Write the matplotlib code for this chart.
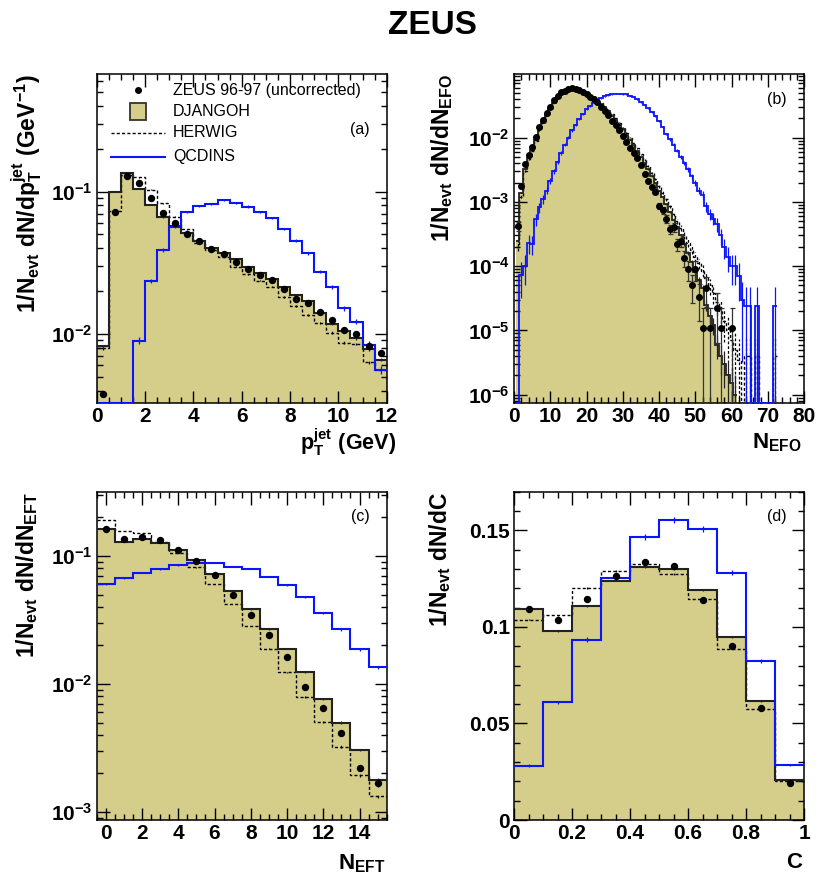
import numpy as np
import matplotlib
matplotlib.use("Agg")
import matplotlib.pyplot as plt
from matplotlib.ticker import LogLocator, MultipleLocator, FuncFormatter, NullFormatter
from matplotlib.patches import Rectangle

plt.rcParams['font.family'] = ['Liberation Sans', 'DejaVu Sans']
plt.rcParams['font.weight'] = 'bold'
plt.rcParams['mathtext.fontset'] = 'custom'
plt.rcParams['mathtext.rm'] = 'Liberation Sans:bold'
plt.rcParams['mathtext.it'] = 'Liberation Sans:bold'
plt.rcParams['mathtext.bf'] = 'Liberation Sans:bold'
plt.rcParams['mathtext.default'] = 'rm'

KHAKI = '#d4ce8a'
BLUE = '#0a14ff'

# ---------------- (a) jet transverse momentum ---------------- #
pt_edges = np.arange(0, 12.01, 0.5)
pt_data = [0.00377, 0.0723, 0.129, 0.115, 0.0908, 0.0705, 0.060, 0.0507, 0.0446, 0.0398,
           0.0367, 0.0319, 0.0288, 0.026, 0.0239, 0.0207, 0.0177, 0.0164, 0.0143, 0.0126,
           0.0106, 0.0100, 0.0082, 0.0074]
pt_djangoh = [0.0082, 0.100, 0.134, 0.105, 0.0806, 0.066, 0.0577, 0.051, 0.0446, 0.0404,
              0.0369, 0.0337, 0.0294, 0.0267, 0.0243, 0.0213, 0.0188, 0.0169, 0.0140, 0.0117,
              0.0105, 0.0093, 0.0078, 0.0066]
pt_herwig = [0.0079, 0.0735, 0.131, 0.126, 0.103, 0.0828, 0.0667, 0.0543, 0.0434, 0.0389,
             0.0349, 0.0297, 0.0262, 0.0237, 0.0215, 0.0181, 0.0156, 0.0136, 0.0120, 0.0102,
             0.0087, 0.0085, 0.0063, 0.0056]
pt_qcdins = [0, 0, 0, 0.00898, 0.0237, 0.0389, 0.0568, 0.0716, 0.0797, 0.0819,
             0.0873, 0.0828, 0.0785, 0.0716, 0.065, 0.0547, 0.0453, 0.0369, 0.0274, 0.0215,
             0.0151, 0.0122, 0.0084, 0.0056]

# ---------------- (b) number of energy flow objects ---------------- #
# bins of width 1, centred on N = 1, 2, 3, ...
efo_data = [4.2e-4, 1.8e-3, 3.9e-3, 5.4e-3, 7.1e-3, 1.02e-2, 1.49e-2, 1.9e-2, 2.45e-2, 3.0e-2,
            3.8e-2, 4.5e-2, 5.1e-2, 5.4e-2, 5.7e-2, 5.9e-2, 5.75e-2, 5.5e-2, 5.2e-2, 4.8e-2,
            4.35e-2, 3.95e-2, 3.55e-2, 3.0e-2, 2.6e-2, 2.25e-2, 1.85e-2, 1.6e-2, 1.3e-2, 1.06e-2,
            8.5e-3, 7.0e-3, 5.8e-3, 4.9e-3, 3.7e-3, 2.7e-3, 2.1e-3, 1.7e-3, 1.45e-3, 8.6e-4,
            7.4e-4, 5.5e-4, 3.8e-4, 4.1e-4, 2.2e-4, 2.5e-4, 1.35e-4, 9.0e-5, 5.0e-5, 9.0e-5,
            3.3e-5, 1.1e-5, 4.5e-5, 1.1e-5, 0, 2.2e-5, 1.1e-5, 0, 0, 1.1e-5]
efo_djangoh = [2.5e-4, 1.4e-3, 3.3e-3, 4.8e-3, 6.5e-3, 9.2e-3, 1.35e-2, 1.75e-2, 2.25e-2, 2.8e-2,
               3.5e-2, 4.2e-2, 4.8e-2, 5.2e-2, 5.5e-2, 5.6e-2, 5.6e-2, 5.45e-2, 5.2e-2, 4.9e-2,
               4.5e-2, 4.15e-2, 3.75e-2, 3.35e-2, 2.95e-2, 2.6e-2, 2.2e-2, 1.9e-2, 1.6e-2, 1.35e-2,
               1.12e-2, 9.3e-3, 7.6e-3, 6.2e-3, 5.0e-3, 4.0e-3, 3.2e-3, 2.5e-3, 1.95e-3, 1.5e-3,
               1.2e-3, 9.2e-4, 7.0e-4, 5.3e-4, 4.0e-4, 3.0e-4, 2.2e-4, 1.6e-4, 1.15e-4, 8.0e-5,
               6.0e-5, 4.5e-5, 2.5e-5, 1.7e-5, 1.2e-5, 6e-6, 4e-6, 3e-6, 2e-6, 1.5e-6, 1.0e-6]
efo_herwig = [2.0e-4, 1.2e-3, 3.0e-3, 4.6e-3, 6.3e-3, 9.0e-3, 1.3e-2, 1.7e-2, 2.2e-2, 2.75e-2,
              3.45e-2, 4.15e-2, 4.75e-2, 5.2e-2, 5.5e-2, 5.65e-2, 5.6e-2, 5.5e-2, 5.25e-2, 4.95e-2,
              4.6e-2, 4.25e-2, 3.85e-2, 3.45e-2, 3.05e-2, 2.7e-2, 2.3e-2, 2.0e-2, 1.7e-2, 1.43e-2,
              1.2e-2, 1.0e-2, 8.2e-3, 6.8e-3, 5.5e-3, 4.5e-3, 3.6e-3, 2.85e-3, 2.25e-3, 1.75e-3,
              1.4e-3, 1.1e-3, 8.5e-4, 6.5e-4, 5.0e-4, 3.9e-4, 3.0e-4, 2.3e-4, 1.8e-4, 1.4e-4,
              1.1e-4, 8.5e-5, 6.5e-5, 5.0e-5, 3.8e-5, 2.8e-5, 2.0e-5, 1.4e-5, 1.0e-5, 7e-6,
              5e-6, 3.5e-6, 0, 4e-6, 4e-6, 0, 4e-6, 0, 0, 0,
              0, 4e-6]
efo_qcdins = [0, 7.4e-5, 1.0e-4, 2.3e-4, 2.2e-4, 5.4e-4, 8.2e-4, 1.1e-3, 1.5e-3, 2.1e-3,
              3.0e-3, 4.2e-3, 5.8e-3, 7.8e-3, 1.0e-2, 1.3e-2, 1.6e-2, 1.95e-2, 2.35e-2, 2.75e-2,
              3.1e-2, 3.5e-2, 3.8e-2, 4.1e-2, 4.4e-2, 4.6e-2, 4.75e-2, 4.85e-2, 4.85e-2, 4.8e-2,
              4.7e-2, 4.5e-2, 4.25e-2, 3.95e-2, 3.6e-2, 3.2e-2, 2.85e-2, 2.5e-2, 2.15e-2, 1.8e-2,
              1.45e-2, 1.15e-2, 9.5e-3, 7.8e-3, 6.3e-3, 5.0e-3, 4.0e-3, 3.2e-3, 2.5e-3, 2.0e-3,
              1.5e-3, 1.3e-3, 8.5e-4, 6.5e-4, 5.5e-4, 4.5e-4, 3.0e-4, 2.0e-4, 1.4e-4, 1.0e-4,
              1.0e-4, 7.0e-5, 3.0e-5, 2.4e-5, 2.4e-5, 0, 2.4e-5, 0, 0, 0,
              0, 2.4e-5]

# ---------------- (c) number of energy flow objects in the transverse region ---------------- #
eft_edges = np.arange(-0.5, 15.51, 1.0)
eft_data = [0.164, 0.136, 0.140, 0.133, 0.111, 0.092, 0.0711, 0.050, 0.0346, 0.0242,
            0.0164, 0.0094, 0.00646, 0.00412, 0.00222, 0.00167]
eft_djangoh = [0.1615, 0.129, 0.135, 0.126, 0.1115, 0.093, 0.0723, 0.0536, 0.0383, 0.0267,
               0.0189, 0.0123, 0.0076, 0.0050, 0.00305, 0.00178]
eft_herwig = [0.191, 0.157, 0.152, 0.129, 0.106, 0.0815, 0.0604, 0.0422, 0.0284, 0.0189,
              0.0123, 0.00796, 0.00502, 0.00324, 0.00195, 0.00133]
eft_qcdins = [0.0601, 0.067, 0.0742, 0.0787, 0.085, 0.0887, 0.0887, 0.0826, 0.0796, 0.069,
              0.059, 0.0481, 0.036, 0.0267, 0.0187, 0.0135]

# ---------------- (d) C parameter ---------------- #
c_edges = np.arange(0, 1.001, 0.1)
c_data = [0.1093, 0.1035, 0.1145, 0.1263, 0.1336, 0.1315, 0.1137, 0.090, 0.0578, 0.019]
c_djangoh = [0.1093, 0.0977, 0.1107, 0.124, 0.1311, 0.1301, 0.1189, 0.0946, 0.0616, 0.0208]
c_herwig = [0.1038, 0.1059, 0.1202, 0.1289, 0.1327, 0.1272, 0.1142, 0.0888, 0.0576, 0.0202]
c_qcdins = [0.0282, 0.0609, 0.0934, 0.1254, 0.1464, 0.1554, 0.1505, 0.128, 0.0822, 0.0285]


# some helpers ----------------------------------------------------- #

def hist_fill(ax, edges, vals, floor):
    v = np.maximum(np.asarray(vals, float), floor)
    ax.stairs(v, edges, baseline=floor * 0.01, fill=True, color=KHAKI, lw=0, zorder=1)


def hist_line(ax, edges, vals, floor, w, color, ls='-', lw=1.3, z=3):
    vals = np.asarray(vals, float)
    v = np.maximum(vals, floor)
    ax.stairs(v, edges, baseline=None, color=color, ls=ls, lw=lw, zorder=z)
    # statistical error of the MC sample
    c = 0.5 * (edges[:-1] + edges[1:])
    m = vals > 0
    e = np.sqrt(vals[m] * w)
    lo = np.minimum(e, vals[m] - floor * 0.01)
    eb = ax.errorbar(c[m], vals[m], yerr=[lo, e], fmt='none', ecolor=color,
                     elinewidth=0.9, zorder=z)
    if ls != '-':
        eb[2][0].set_linestyle(ls)


def data_pts(ax, edges, vals, w, floor, ms=4.3, cap=0, ecol='k'):
    vals = np.asarray(vals, float)
    c = 0.5 * (edges[:-1] + edges[1:])
    m = vals > 0
    e = np.sqrt(vals[m] * w)
    lo = np.minimum(e, vals[m] - floor * 0.01)
    ax.errorbar(c[m], vals[m], yerr=[lo, e], fmt='o', ms=ms, color='k', ecolor=ecol,
                elinewidth=0.9, capsize=cap, capthick=0.9, zorder=5)


def log_fmt(v, pos):
    return r'$10^{%d}$' % int(round(np.log10(v)))


def style(ax, logy):
    ax.tick_params(which='both', direction='in', top=True, right=True, width=1)
    ax.tick_params(which='major', length=9, labelsize=15, pad=3)
    ax.tick_params(which='minor', length=4.5)
    for s in ax.spines.values():
        s.set_linewidth(1.1)
    if logy:
        ax.set_yscale('log')
        ax.yaxis.set_major_locator(LogLocator(base=10, numticks=20))
        ax.yaxis.set_minor_locator(LogLocator(base=10, subs=np.arange(2, 10), numticks=20))
        ax.yaxis.set_major_formatter(FuncFormatter(log_fmt))
        ax.yaxis.set_minor_formatter(NullFormatter())


gfmt = FuncFormatter(lambda v, p: '%g' % round(v, 3))

W, H = 830, 882
fig = plt.figure(figsize=(W / 100, H / 100), dpi=100)


def axes_px(left, top, right, bottom):
    return fig.add_axes([left / W, 1 - bottom / H, (right - left) / W, (bottom - top) / H])


fig.text(432 / W, 1 - 26 / H, 'ZEUS', ha='center', va='center', fontsize=24, fontweight='bold')

# ---- (a)
ax = axes_px(96.7, 74, 386.7, 403)
style(ax, True)
ymin_a = 0.00327
hist_fill(ax, pt_edges, pt_djangoh, ymin_a)
hist_line(ax, pt_edges, pt_herwig, ymin_a, 4e-6, 'k', ls=(0, (2.2, 1.6)), lw=1.0)
hist_line(ax, pt_edges, pt_djangoh, ymin_a, 4e-6, '#222222', lw=1.5)
hist_line(ax, pt_edges, pt_qcdins, ymin_a, 2.5e-5, BLUE, lw=1.5, z=4)
data_pts(ax, pt_edges, pt_data, 5e-6, ymin_a)
ax.set_xlim(0, 12)
ax.set_ylim(ymin_a, 0.67)
ax.xaxis.set_major_locator(MultipleLocator(2))
ax.xaxis.set_minor_locator(MultipleLocator(0.5))
ax.text(0.908, 0.83, '(a)', transform=ax.transAxes, ha='center', va='center',
        fontsize=11.5, fontweight='normal')
# legend
ta = ax.transAxes
ax.plot([0.1424], [0.951], 'o', color='k', ms=4, transform=ta, clip_on=False)
ax.add_patch(Rectangle((0.1148, 0.860), 0.0553, 0.051, transform=ta, facecolor=KHAKI,
                       edgecolor='#333333', lw=1.3, zorder=6))
ax.plot([0.049, 0.2355], [0.8207, 0.8207], color='k', ls=(0, (2.2, 1.6)), lw=1.0, transform=ta)
ax.plot([0.049, 0.2355], [0.748, 0.748], color=BLUE, lw=1.5, transform=ta)
for yy, lab in zip([0.951, 0.885, 0.821, 0.748],
                   ['ZEUS 96-97 (uncorrected)', 'DJANGOH', 'HERWIG', 'QCDINS']):
    ax.text(0.263, yy, lab, transform=ta, ha='left', va='center', fontsize=11.5,
            fontweight='normal')
fig.text(27 / W, 1 - 74 / H, r'$1/N_{evt}\ dN/dp_{T}^{jet}\ (GeV^{-1})$', rotation=90,
         ha='center', va='top', fontsize=16.5)
fig.text(396 / W, 1 - 442 / H, r'$p_{T}^{jet}\ (GeV)$', ha='right', va='center', fontsize=15.5)

# ---- (b)
ax = axes_px(514, 74, 804, 403)
style(ax, True)
ymin_b = 7.4e-7
e_dj = 0.5 + np.arange(len(efo_djangoh) + 1)
e_hw = 0.5 + np.arange(len(efo_herwig) + 1)
e_qi = 0.5 + np.arange(len(efo_qcdins) + 1)
e_da = 0.5 + np.arange(len(efo_data) + 1)
hist_fill(ax, e_dj, efo_djangoh, ymin_b)
hist_line(ax, e_hw, efo_herwig, ymin_b, 4e-6, 'k', ls=(0, (2.2, 1.6)), lw=1.0)
hist_line(ax, e_dj, efo_djangoh, ymin_b, 1e-6, '#222222', lw=1.3)
hist_line(ax, e_qi, efo_qcdins, ymin_b, 2.4e-5, BLUE, lw=1.3, z=4)
data_pts(ax, e_da, efo_data, 1.1e-5, ymin_b, ms=4.0, cap=1.8, ecol='#333333')
ax.set_xlim(0, 80)
ax.set_ylim(ymin_b, 0.098)
ax.xaxis.set_major_locator(MultipleLocator(10))
ax.xaxis.set_minor_locator(MultipleLocator(2))
ax.text(0.907, 0.921, '(b)', transform=ax.transAxes, ha='center', va='center',
        fontsize=11.5, fontweight='normal')
fig.text(442 / W, 1 - 74 / H, r'$1/N_{evt}\ dN/dN_{EFO}$', rotation=90,
         ha='center', va='top', fontsize=16.5)
fig.text(802 / W, 1 - 443 / H, r'$N_{EFO}$', ha='right', va='center', fontsize=16)

# ---- (c)
ax = axes_px(96.7, 491.7, 386.7, 820)
style(ax, True)
ymin_c = 0.000866
hist_fill(ax, eft_edges, eft_djangoh, ymin_c)
hist_line(ax, eft_edges, eft_herwig, ymin_c, 2e-6, 'k', ls=(0, (2.2, 1.6)), lw=1.0)
hist_line(ax, eft_edges, eft_djangoh, ymin_c, 2e-6, '#222222', lw=1.5)
hist_line(ax, eft_edges, eft_qcdins, ymin_c, 1.5e-5, BLUE, lw=1.5, z=4)
data_pts(ax, eft_edges, eft_data, 5e-6, ymin_c)
ax.set_xlim(-0.5, 15.5)
ax.set_ylim(ymin_c, 0.318)
ax.xaxis.set_major_locator(MultipleLocator(2))
ax.xaxis.set_minor_locator(MultipleLocator(0.5))
ax.text(0.908, 0.923, '(c)', transform=ax.transAxes, ha='center', va='center',
        fontsize=11.5, fontweight='normal')
fig.text(27 / W, 1 - 492 / H, r'$1/N_{evt}\ dN/dN_{EFT}$', rotation=90,
         ha='center', va='top', fontsize=16.5)
fig.text(385 / W, 1 - 864 / H, r'$N_{EFT}$', ha='right', va='center', fontsize=16)

# ---- (d)
ax = axes_px(514, 491.7, 804, 820)
style(ax, False)
hist_fill(ax, c_edges, c_djangoh, 1e-9)
hist_line(ax, c_edges, c_herwig, 0, 2e-6, 'k', ls=(0, (2.2, 1.6)), lw=1.0)
hist_line(ax, c_edges, c_djangoh, 0, 2e-6, '#222222', lw=1.5)
hist_line(ax, c_edges, c_qcdins, 0, 1.5e-5, BLUE, lw=1.5, z=4)
data_pts(ax, c_edges, c_data, 3e-6, 0)
ax.set_xlim(0, 1)
ax.set_ylim(0, 0.17)
ax.xaxis.set_major_locator(MultipleLocator(0.2))
ax.xaxis.set_minor_locator(MultipleLocator(0.05))
ax.yaxis.set_major_locator(MultipleLocator(0.05))
ax.yaxis.set_minor_locator(MultipleLocator(0.01))
ax.xaxis.set_major_formatter(gfmt)
ax.yaxis.set_major_formatter(gfmt)
ax.text(0.907, 0.923, '(d)', transform=ax.transAxes, ha='center', va='center',
        fontsize=11.5, fontweight='normal')
fig.text(440 / W, 1 - 492 / H, r'$1/N_{evt}\ dN/dC$', rotation=90,
         ha='center', va='top', fontsize=16.5)
fig.text(803 / W, 1 - 862 / H, r'$C$', ha='right', va='center', fontsize=16)

fig.savefig('out.png', dpi=100)
